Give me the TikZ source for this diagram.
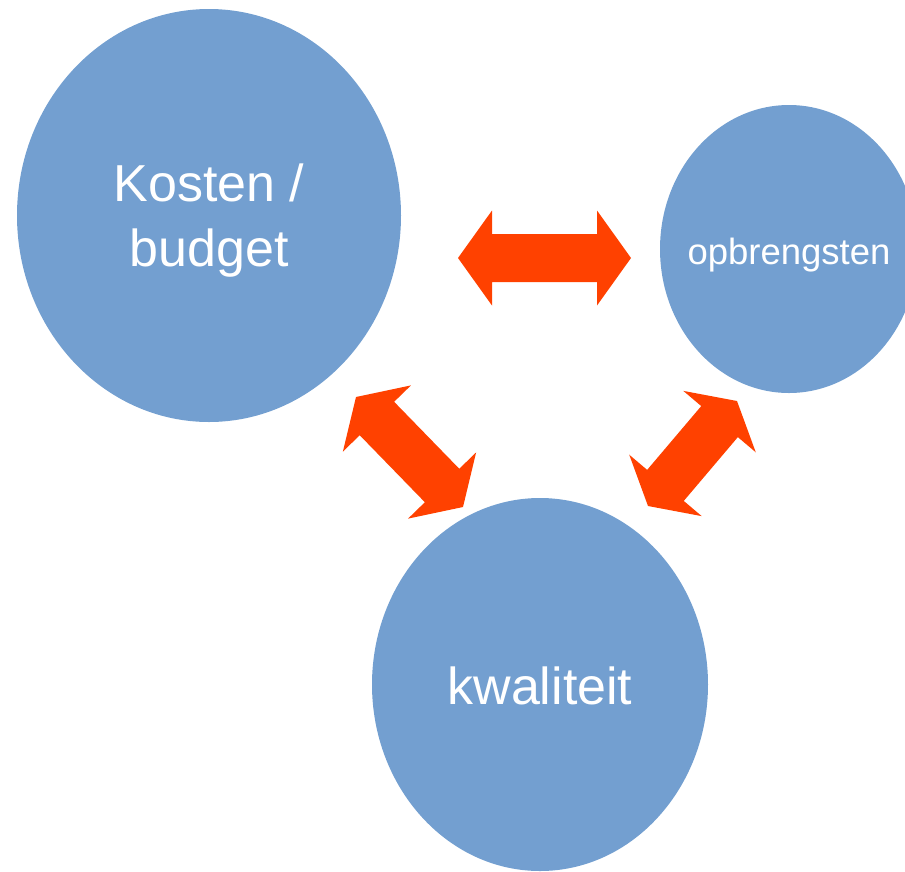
\documentclass[tikz,border=0pt]{standalone}
\usepackage{fontspec}
\setmainfont{Liberation Sans}
\usepackage{tikz}
\usetikzlibrary{shapes.geometric,calc}
\definecolor{blauw}{RGB}{115,159,208}
\definecolor{oranje}{RGB}{255,65,0}
\tikzset{
  bol/.style={ellipse,fill=blauw,inner sep=0pt,outer sep=0pt},
  tekst/.style={text=white,align=center,inner sep=0pt},
  pijl/.style={fill=oranje}
}

\begin{document}
\begin{tikzpicture}[line cap=round,line join=miter,x=1pt,y=-1pt]
      \useasboundingbox (0,0) rectangle (905,871);
      \clip (0,0) rectangle (905,871);
      % de drie bollen
      \node[bol,minimum width=384pt,minimum height=413pt] (kosten) at (209,215.5) {};
      \node[bol,minimum width=258pt,minimum height=288pt] (opbr) at (789,249) {};
      \node[bol,minimum width=336pt,minimum height=373pt] (kwal) at (540,684.5) {};
      \node[tekst,font=\fontsize{52}{65}\selectfont] (kostentxt) at ($(kosten)+(0,5.5)$) {Kosten /\\budget};
      \node[tekst,font=\fontsize{36.5}{42}\selectfont] (opbrtxt) at ($(opbr)+(0,6)$) {opbrengsten};
      \node[tekst,font=\fontsize{52}{65}\selectfont] (kwaltxt) at ($(kwal)+(0,1.5)$) {kwaliteit};
      % eindpunten van de pijlen
      \coordinate (h1) at (458,258);
      \coordinate (h2) at (631,258);
      \coordinate (l1) at (356,397);
      \coordinate (l2) at (463,507);
      \coordinate (r1) at (648,506);
      \coordinate (r2) at (737,401);
      \foreach \van/\naar/\kop in {h1/h2/34pt,l1/l2/30pt,r1/r2/27pt}
      \fill[pijl] (\van) -- ($(\van)!\kop!(\naar)!47.5pt!90:(\naar)$)
        -- ($(\van)!\kop!(\naar)!24pt!90:(\naar)$)
        -- ($(\naar)!\kop!(\van)!24pt!-90:(\van)$)
        -- ($(\naar)!\kop!(\van)!47.5pt!-90:(\van)$)
        -- (\naar) -- ($(\naar)!\kop!(\van)!47.5pt!90:(\van)$)
        -- ($(\naar)!\kop!(\van)!24pt!90:(\van)$)
        -- ($(\van)!\kop!(\naar)!24pt!-90:(\naar)$)
        -- ($(\van)!\kop!(\naar)!47.5pt!-90:(\naar)$) -- cycle;
    \end{tikzpicture}
\end{document}
